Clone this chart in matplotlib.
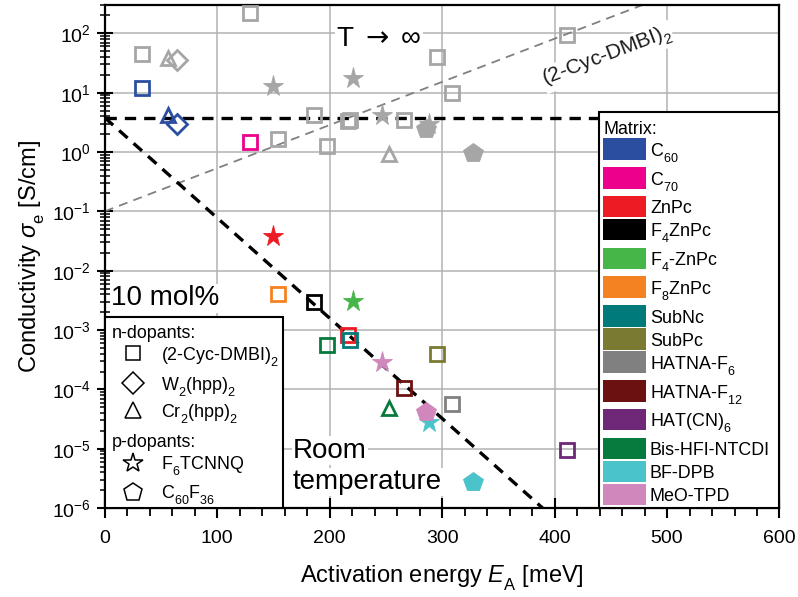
import numpy as np
import matplotlib
matplotlib.use("Agg")
import matplotlib.pyplot as plt
from matplotlib.patches import Rectangle
from matplotlib.ticker import LogLocator, MultipleLocator, NullFormatter

plt.rcParams['font.family'] = ['Liberation Sans', 'DejaVu Sans']
plt.rcParams['mathtext.fontset'] = 'custom'
plt.rcParams['mathtext.rm'] = 'Liberation Sans'
plt.rcParams['mathtext.it'] = 'Liberation Sans:italic'
plt.rcParams['mathtext.bf'] = 'Liberation Sans:bold'
plt.rcParams['mathtext.sf'] = 'DejaVu Sans'
plt.rcParams['mathtext.default'] = 'regular'

# deeper subscripts, as in typeset chemical formulas
try:
    import matplotlib._mathtext as _mt
    _mt.FontConstantsBase.sub1 = 0.62
except Exception:
    pass

# ---------------------------------------------------------------- data
# activation energy (meV) of each doped film
ea = [32.9, 56.0, 64.5, 129.2, 149.4, 154.4, 186.4, 197.4, 216.6, 218.1,
      221.0, 246.3, 253.0, 266.1, 288.0, 286.0, 295.5, 308.8, 327.2, 411.3]
# host matrix of each film
matrix = ['C60', 'C60', 'C60', 'C70', 'ZnPc', 'F8ZnPc', 'F4ZnPc', 'Bis-HFI-NTCDI',
          'ZnPc', 'SubNc', 'F4-ZnPc', 'MeO-TPD', 'Bis-HFI-NTCDI', 'HATNA-F12',
          'BF-DPB', 'MeO-TPD', 'SubPc', 'HATNA-F6', 'BF-DPB', 'HAT(CN)6']
# dopant of each film
dopant = ['cyc', 'cr', 'w', 'cyc', 'f6', 'cyc', 'cyc', 'cyc', 'cyc', 'cyc',
          'f6', 'f6', 'cr', 'cyc', 'f6', 'c60f36', 'cyc', 'cyc', 'c60f36', 'cyc']
# conductivity at room temperature (S/cm)
sigma_rt = [12.0, 4.26, 2.97, 1.45, 0.0386, 4.0e-3, 3.0e-3, 5.6e-4, 8.2e-4, 6.8e-4,
            3.1e-3, 2.9e-4, 4.8e-5, 1.07e-4, 2.8e-5, 4.2e-5, 3.9e-4, 5.6e-5, 2.8e-6, 9.6e-6]
# conductivity extrapolated to T -> infinity (S/cm)
sigma_inf = [44.0, 39.0, 36.0, 223.0, 13.2, 1.66, 4.26, 1.25, 3.29, 3.4,
             17.8, 4.26, 0.935, 3.42, 3.0, 2.45, 40.3, 9.9, 0.96, 93.0]

matrix_names = ['C60', 'C70', 'ZnPc', 'F4ZnPc', 'F4-ZnPc', 'F8ZnPc', 'SubNc', 'SubPc',
                'HATNA-F6', 'HATNA-F12', 'HAT(CN)6', 'Bis-HFI-NTCDI', 'BF-DPB', 'MeO-TPD']
matrix_labels = ['C$_{60}$', 'C$_{70}$', 'ZnPc', 'F$_4$ZnPc', 'F$_4$-ZnPc', 'F$_8$ZnPc',
                 'SubNc', 'SubPc', 'HATNA-F$_6$', 'HATNA-F$_{12}$', 'HAT(CN)$_6$',
                 'Bis-HFI-NTCDI', 'BF-DPB', 'MeO-TPD']
matrix_colors = ['#2b4ea0', '#ec008c', '#ed1c24', '#000000', '#47b649', '#f58220',
                 '#007a7a', '#7a7a33', '#808080', '#6c1111', '#6f2777',
                 '#077a3e', '#4bc3cb', '#cf87bc']

dopant_keys = ['cyc', 'w', 'cr', 'f6', 'c60f36']
dopant_labels = ['(2-Cyc-DMBI)$_2$', 'W$_2$(hpp)$_2$', 'Cr$_2$(hpp)$_2$',
                 'F$_6$TCNNQ', 'C$_{60}$F$_{36}$']

# Arrhenius line at room temperature and high-temperature limit
sigma0 = 3.8          # S/cm
kT = 25.7             # meV
# empirical trend of the (2-Cyc-DMBI)2 prefactors
fit_sigma_at0 = 0.1    # S/cm
fit_ea_decade = 137.5  # meV per decade

# ---------------------------------------------------------------- style
marker_style = {
    'cyc':    dict(marker='s', ms=9.5, filled=False),
    'w':      dict(marker='D', ms=10.0, filled=False),
    'cr':     dict(marker='^', ms=10.5, filled=False),
    'f6':     dict(marker='*', ms=15.5, filled=True),
    'c60f36': dict(marker='p', ms=14.5, filled=True),
}
inf_color = '#a6a6a6'
color_of = dict(zip(matrix_names, matrix_colors))
LEG_FS = 12.9

fig = plt.figure(figsize=(7.98, 5.97), dpi=100)
ax = fig.add_axes([0.1312, 0.149, 0.8456, 0.8426])
ax.set_yscale('log')
ax.set_xlim(0, 600)
ax.set_ylim(1e-6, 300)

# axes size in pixels, for placing the legend boxes
AX_W, AX_H = 674.8, 503.0


def draw_point(x, y, key, color, z):
    st = marker_style[key]
    if st['filled']:
        ax.plot([x], [y], ls='none', marker=st['marker'], ms=st['ms'],
                mfc=color, mec=color, mew=0.6, zorder=z)
    else:
        ax.plot([x], [y], ls='none', marker=st['marker'], ms=st['ms'],
                mfc='none', mec=color, mew=2.0, zorder=z)


for i, (e, s, k) in enumerate(zip(ea, sigma_inf, dopant)):
    draw_point(e, s, k, inf_color, 3 + i * 0.01)
for i, (e, s, k, m) in enumerate(zip(ea, sigma_rt, dopant, matrix)):
    draw_point(e, s, k, color_of[m], 4 + i * 0.01)

# guide lines
e_line = np.linspace(0, 600, 400)
ax.plot(e_line, sigma0 * np.exp(-e_line / kT), color='black', lw=2.4,
        ls=(0, (3.4, 2.4)), zorder=2.5)
ax.plot(e_line, np.full_like(e_line, sigma0), color='black', lw=2.4,
        ls=(0, (3.4, 2.4)), zorder=2.5)
ax.plot(e_line, fit_sigma_at0 * 10 ** (e_line / fit_ea_decade), color='#808080',
        lw=1.3, ls=(0, (5, 3.5)), zorder=2.4)

white = dict(facecolor='white', edgecolor='none', pad=1.0)
ax.text(244, 60, r'T $\mathsf{\rightarrow}$ $\infty$', fontsize=20, ha='center',
        va='baseline', bbox=white, zorder=2)
ax.text(6, 2.6e-3, '10 mol%', fontsize=20, ha='left', va='baseline', bbox=white, zorder=2)
ax.text(167.5, 7.1e-6, 'Room', fontsize=20, ha='left', va='baseline', bbox=white, zorder=2)
ax.text(167.5, 2.1e-6, 'temperature', fontsize=20, ha='left', va='baseline', bbox=white, zorder=2)
ax.text(447, 40, '(2-Cyc-DMBI)$_2$', fontsize=15, ha='center', va='center',
        rotation=20.9, rotation_mode='anchor', color='#1a1a1a',
        bbox=dict(facecolor='white', edgecolor='none', pad=0.5), zorder=2)

# axes styling
ax.xaxis.set_major_locator(MultipleLocator(100))
ax.xaxis.set_minor_locator(MultipleLocator(20))
ax.yaxis.set_major_locator(LogLocator(base=10, numticks=20))
ax.yaxis.set_minor_locator(LogLocator(base=10, subs=np.arange(2, 10), numticks=20))
ax.yaxis.set_minor_formatter(NullFormatter())
ax.tick_params(axis='x', which='major', direction='inout', length=14, width=1.5,
               labelsize=14, pad=9)
ax.tick_params(axis='x', which='minor', direction='out', length=6, width=1.3)
ax.tick_params(axis='y', which='major', direction='inout', length=12, width=1.5,
               labelsize=14, pad=4)
ax.tick_params(axis='y', which='minor', direction='inout', length=7, width=1.1)
ax.tick_params(top=False, right=False, which='both')
for sp in ax.spines.values():
    sp.set_linewidth(1.6)
ax.grid(True, which='major', color='#b3b3b3', lw=1.1)
ax.set_axisbelow(True)

ax.set_xlabel(r'Activation energy $\mathit{E}_{\mathrm{A}}$ [meV]', fontsize=17, labelpad=12)
ax.set_ylabel(r'Conductivity $\mathit{\sigma}_{\mathrm{e}}$ [S/cm]', fontsize=17)
ax.yaxis.set_label_coords(-0.086, 0.5)


def fx(px):
    return px / AX_W


def fy(px):
    return px / AX_H


# matrix legend, anchored at the lower right corner of the axes
lg_left, lg_top = 1 - fx(180.5), fy(396.3)
ax.add_patch(Rectangle((lg_left, 0), 1 - lg_left, lg_top, transform=ax.transAxes,
                       facecolor='white', edgecolor='black', lw=1.5, zorder=6,
                       clip_on=False))
ax.text(lg_left + fx(5), lg_top - fy(15.5), 'Matrix:', transform=ax.transAxes,
        fontsize=LEG_FS, ha='left', va='center_baseline', zorder=7)
row_y = lg_top - fy(37.3)
for lab, col in zip(matrix_labels, matrix_colors):
    ax.add_patch(Rectangle((lg_left + fx(3.7), row_y - fy(10.75)), fx(43), fy(21.5),
                           transform=ax.transAxes, facecolor=col, edgecolor='none',
                           zorder=7, clip_on=False))
    ax.text(lg_left + fx(51), row_y, lab, transform=ax.transAxes, fontsize=LEG_FS,
            ha='left', va='center_baseline', zorder=7)
    row_y -= fy(28.8 if '$' in lab else 23.0)

# dopant legend, anchored at the lower left corner of the axes
box_w, box_h = fx(178.6), fy(190.7)
ax.add_patch(Rectangle((0, 0), box_w, box_h, transform=ax.transAxes, facecolor='white',
                       edgecolor='black', lw=1.5, zorder=6, clip_on=False))
header_y = [0.3505, 0.1352]
for txt, y in zip(['n-dopants:', 'p-dopants:'], header_y):
    ax.text(0.011, y, txt, transform=ax.transAxes, fontsize=LEG_FS, ha='left',
            va='center_baseline', zorder=7)
entry_y = [0.3076, 0.2485, 0.1948, 0.0901, 0.0324]
legend_ms = {'cyc': 10, 'w': 11, 'cr': 12, 'f6': 14.5, 'c60f36': 13.5}
for key, lab, y in zip(dopant_keys, dopant_labels, entry_y):
    ax.plot([0.0419], [y], transform=ax.transAxes, ls='none',
            marker=marker_style[key]['marker'], ms=legend_ms[key], mfc='none',
            mec='black', mew=1.1, zorder=7, clip_on=False)
    ax.text(0.0834, y, lab, transform=ax.transAxes, fontsize=LEG_FS, ha='left',
            va='center_baseline', zorder=7)

fig.savefig('out.png', dpi=100)
